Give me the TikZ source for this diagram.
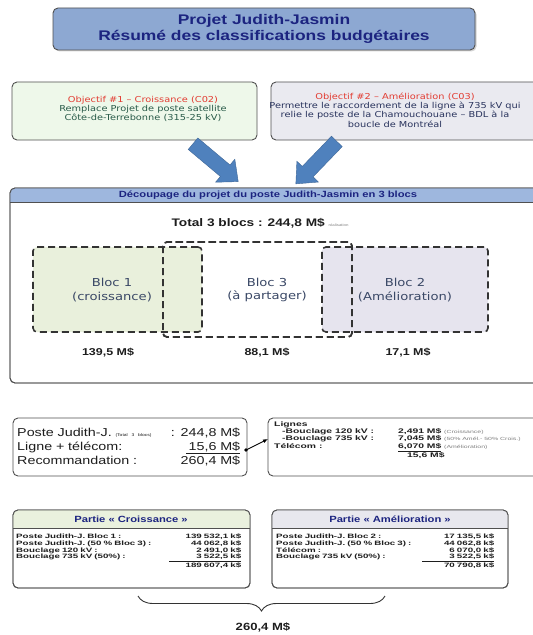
\documentclass[tikz,border=0pt]{standalone}
\usepackage{fontspec}
\setmainfont{Liberation Sans}[FakeStretch=1.25]
\newfontfamily\dvfont{DejaVu Sans}[FakeStretch=1.2]
\newfontfamily\narrowish{Liberation Sans}[FakeStretch=1.55]
\usetikzlibrary{shadows,arrows.meta,decorations.pathreplacing}
\definecolor{titlefill}{RGB}{141,168,210}
\definecolor{titleblue}{RGB}{28,36,128}
\definecolor{obja}{RGB}{238,248,234}
\definecolor{objb}{RGB}{234,234,240}
\definecolor{objred}{RGB}{226,60,50}
\definecolor{objgreen}{RGB}{40,90,72}
\definecolor{objnavy}{RGB}{40,50,92}
\definecolor{hdrblue}{RGB}{158,183,222}
\definecolor{blocgreen}{RGB}{233,240,220}
\definecolor{blocviolet}{RGB}{230,228,238}
\definecolor{bloctext}{RGB}{58,72,102}
\definecolor{hdrgreen}{RGB}{234,241,222}
\definecolor{hdrgrey}{RGB}{232,232,238}
\definecolor{tabtext}{RGB}{30,30,30}
\definecolor{arrowblue}{RGB}{79,129,189}
\definecolor{boxline}{RGB}{80,80,80}
\begin{document}
\begin{tikzpicture}[x=1bp,y=-1bp,
  box/.style={draw=boxline, line width=0.9bp, rounded corners=5bp, inner sep=0pt, outer sep=0pt, anchor=north west},
  blocbox/.style={draw=black!80, line width=1.6bp, dash pattern=on 7bp off 4bp, rounded corners=4bp, inner sep=0pt, outer sep=0pt, anchor=north west},
  blocmark/.style={font=\dvfont\fontsize{11}{14}\selectfont, text=bloctext, align=center, inner sep=0pt},
  amount/.style={font=\bfseries\fontsize{10}{12}\selectfont, text=tabtext, inner sep=0pt},
  tabfont/.style={font=\narrowish\bfseries\fontsize{6.3}{6.6}\selectfont, text=tabtext},
  hdrtext/.style={font=\bfseries\fontsize{9}{11}\selectfont, text=titleblue, inner sep=0pt},
  bigarrow/.style={fill=arrowblue, draw=arrowblue!80!black, line width=0.4bp}
]
\useasboundingbox (0,0) rectangle (533,635);

% title
\node[box, fill=titlefill, drop shadow={shadow xshift=1.5bp, shadow yshift=-1.5bp, opacity=0.35},
      minimum width=422bp, minimum height=42bp, align=center,
      font=\bfseries\fontsize{14}{16.5}\selectfont, text=titleblue] (title) at (53,8)
  {Projet Judith-Jasmin\\Résumé des classifications budgétaires};

% objectives
\node[box, fill=obja, minimum width=245bp, minimum height=58bp] (obj1) at (12,82) {};
\node[align=center, font=\dvfont\fontsize{8.2}{9.3}\selectfont, text=objgreen, inner sep=0pt] (obj1txt) at (143,109)
  {{\color{objred}Objectif \#1 – Croissance (C02)}\\Remplace Projet de poste satellite\\Côte-de-Terrebonne (315-25 kV)};
\node[box, fill=objb, minimum width=280bp, minimum height=58bp] (obj2) at (271,82) {};
\node[align=center, font=\dvfont\fontsize{8.2}{9.3}\selectfont, text=objnavy, inner sep=0pt] (obj2txt) at (395,110)
  {{\color{objred}Objectif \#2 – Amélioration (C03)}\\Permettre le raccordement de la ligne à 735 kV qui\\relie le poste de la Chamouchouane – BDL à la\\boucle de Montréal};

% block arrows
\begin{scope}[shift={(216,163)}, rotate=-40]
  \path[bigarrow] (-30,-7.5) -- (12,-7.5) -- (12,-15) -- (29,0) -- (12,15) -- (12,7.5) -- (-30,7.5) -- cycle;
\end{scope}
\begin{scope}[shift={(316,163)}, rotate=-134]
  \path[bigarrow] (-30,-7.5) -- (12,-7.5) -- (12,-15) -- (29,0) -- (12,15) -- (12,7.5) -- (-30,7.5) -- cycle;
\end{scope}

% main box
\node[box, fill=white, minimum width=545bp, minimum height=195bp] (main) at (10,188) {};
\begin{scope}
  \clip[rounded corners=5bp] (main.north west) rectangle (main.south east);
  \fill[hdrblue] (main.north west) rectangle ([yshift=-14bp]main.north east);
\end{scope}
\draw[boxline, line width=0.9bp] ([yshift=-14bp]main.north west) -- ([yshift=-14bp]main.north east);
\draw[boxline, line width=0.9bp, rounded corners=5bp] (main.north west) rectangle (main.south east);
\node[font=\bfseries\fontsize{9}{10}\selectfont, text=titleblue, inner sep=0pt] (mainhdr) at (268,195)
  {Découpage du projet du poste Judith-Jasmin en 3 blocs};
\node[font=\bfseries\fontsize{11}{12}\selectfont, text=tabtext, inner sep=0pt] (total) at (260,223)
  {Total 3 blocs : 244,8 M\$ {\mdseries\fontsize{3.5}{4}\selectfont\color{gray}réalisation}};

% blocs
\node[blocbox, fill=white, minimum width=189bp, minimum height=95bp] (bloc3) at (163,242) {};
\node[blocbox, fill=blocgreen, minimum width=169bp, minimum height=85bp] (bloc1) at (33,247) {};
\node[blocbox, fill=blocviolet, minimum width=166bp, minimum height=85bp] (bloc2) at (322,247) {};
\draw[blocbox] (bloc3.north west) rectangle (bloc3.south east);
\node[blocmark] (b1txt) at (112,290) {Bloc 1\\(croissance)};
\node[blocmark] (b3txt) at (267,290) {Bloc 3\\(à partager)};
\node[blocmark] (b2txt) at (405,290) {Bloc 2\\(Amélioration)};
\node[amount] (am1) at (108,353) {139,5 M\$};
\node[amount] (am3) at (267,353) {88,1 M\$};
\node[amount] (am2) at (408,353) {17,1 M\$};

% summary boxes
\node[box, fill=white, minimum width=234bp, minimum height=58bp] (sum) at (13,418) {};
\node[anchor=north west, inner sep=0pt, text width=223bp, align=left,
      font=\fontsize{11.5}{14}\selectfont, text=tabtext] (sumtxt) at (17,428)
  {Poste Judith-J. {\fontsize{4}{5}\selectfont(Total 3 blocs)}\hfill : 244,8 M\$\\
   Ligne + télécom:\hfill \underline{\makebox[54bp][r]{15,6 M\$}}\\
   Recommandation :\hfill 260,4 M\$};
\node[box, fill=white, minimum width=280bp, minimum height=58bp] (rbox) at (268,418) {};
\node[anchor=north west, inner sep=0pt, align=left,
      font=\narrowish\bfseries\fontsize{6.7}{7.5}\selectfont, text=tabtext] (rtxt) at (274,421)
  {Lignes\\
   \hspace*{8bp}\makebox[116bp][l]{-Bouclage 120 kV :}2,491 M\$ {\mdseries\fontsize{4.5}{5}\selectfont\color{gray}(Croissance)}\\
   \hspace*{8bp}\makebox[116bp][l]{-Bouclage 735 kV :}7,045 M\$ {\mdseries\fontsize{4.5}{5}\selectfont\color{gray}(50\% Amél.- 50\% Crois.)}\\
   \makebox[124bp][l]{Télécom :}\underline{6,070 M\$} {\mdseries\fontsize{4.5}{5}\selectfont\color{gray}(Amélioration)}\\
   \hspace*{133bp}15,6 M\$};
\coordinate (dot) at (246,450);
\fill[black] (dot) circle (1.8bp);
\draw[line width=0.9bp, -{Latex[length=5bp,width=4bp]}] (dot) -- ([yshift=8bp]rbox.west);

% partie boxes
\node[box, fill=white, minimum width=237bp, minimum height=78bp] (cbox) at (13,510) {};
\node[box, fill=white, minimum width=236bp, minimum height=78bp] (abox) at (272,510) {};
\begin{scope}
  \clip[rounded corners=5bp] (cbox.north west) rectangle (cbox.south east);
  \fill[hdrgreen] (cbox.north west) rectangle ([yshift=-18bp]cbox.north east);
\end{scope}
\begin{scope}
  \clip[rounded corners=5bp] (abox.north west) rectangle (abox.south east);
  \fill[hdrgrey] (abox.north west) rectangle ([yshift=-18bp]abox.north east);
\end{scope}
\foreach \b in {cbox,abox}{
  \draw[boxline, line width=0.9bp] ([yshift=-18bp]\b.north west) -- ([yshift=-18bp]\b.north east);
  \draw[boxline, line width=0.9bp, rounded corners=5bp] (\b.north west) rectangle (\b.south east);
}
\node[hdrtext] (chdr) at (131,519) {Partie « Croissance »};
\node[hdrtext] (ahdr) at (390,519) {Partie « Amélioration »};
\node[anchor=north west, inner sep=0pt, text width=225bp, align=left, tabfont] (ctab) at (16,534)
  {Poste Judith-J. Bloc 1 :\hfill 139 532,1 k\$\\
   Poste Judith-J. (50 \% Bloc 3) :\hfill 44 062,8 k\$\\
   Bouclage 120 kV :\hfill 2 491,0 k\$\\
   Bouclage 735 kV (50\%) :\hfill \underline{\makebox[72bp][r]{3 522,5 k\$}}\\
   \mbox{}\hfill 189 607,4 k\$};
\node[anchor=north west, inner sep=0pt, text width=218bp, align=left, tabfont] (atab) at (276,534)
  {Poste Judith-J. Bloc 2 :\hfill 17 135,5 k\$\\
   Poste Judith-J. (50 \% Bloc 3) :\hfill 44 062,8 k\$\\
   Télécom :\hfill 6 070,0 k\$\\
   Bouclage 735 kV (50\%) :\hfill \underline{\makebox[72bp][r]{3 522,5 k\$}}\\
   \mbox{}\hfill 70 790,8 k\$};

% brace and total
\coordinate (braceL) at (138,596);
\coordinate (braceR) at (385,596);
\draw[line width=0.9bp, black!80, decorate, decoration={brace, mirror, amplitude=15bp}] (braceL) -- (braceR);
\node[font=\bfseries\fontsize{10.5}{12}\selectfont, text=tabtext, inner sep=0pt] (grand) at (263,627) {260,4 M\$};
\end{tikzpicture}
\end{document}
